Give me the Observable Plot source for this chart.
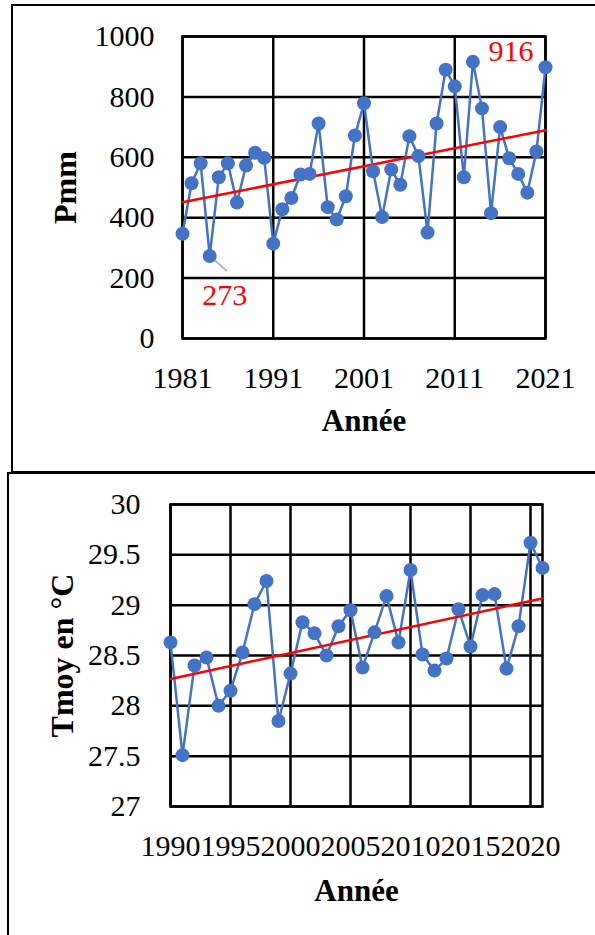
<!DOCTYPE html>
<html><head><meta charset="utf-8">
<script src="https://cdn.jsdelivr.net/npm/d3@7"></script>
<script src="https://cdn.jsdelivr.net/npm/@observablehq/plot@0.6"></script>
<style>
html,body{margin:0;padding:0;background:#fff;}
#wrap{position:relative;width:595px;height:935px;overflow:hidden;background:#fff;}
.panel{position:absolute;border:2.5px solid #000;box-sizing:border-box;}
#p1{left:11px;top:4px;width:640px;height:469px;}
#p2{left:7px;top:472px;width:640px;height:520px;}
.chart{position:absolute;left:0;}
#c1{top:0}
#c2{top:472px}
</style></head>
<body><div id="wrap"><div class="panel" id="p1"></div><div class="panel" id="p2"></div><div class="chart" id="c1"></div><div class="chart" id="c2"></div></div>
<script>
// Precipitation (Pmm), 1981-2021
const pYears = [1981,1982,1983,1984,1985,1986,1987,1988,1989,1990,1991,1992,1993,1994,1995,1996,1997,1998,1999,2000,2001,2002,2003,2004,2005,2006,2007,2008,2009,2010,2011,2012,2013,2014,2015,2016,2017,2018,2019,2020,2021];
const pValues = [347,514,580,273,534,580,450,573,615,598,314,428,465,543,545,712,435,394,471,672,779,554,402,560,509,670,604,351,712,890,835,534,916,762,415,700,597,545,483,619,898];
const pTicksX = [1981,1991,2001,2011,2021];
const pTicksY = [0,200,400,600,800,1000];
const pMinYear = [1984], pMinValue = [273];
const pMaxYear = [2013], pMaxValue = [916];

// Mean temperature (Tmoy en °C), 1990-2021
const tYears = [1990,1991,1992,1993,1994,1995,1996,1997,1998,1999,2000,2001,2002,2003,2004,2005,2006,2007,2008,2009,2010,2011,2012,2013,2014,2015,2016,2017,2018,2019,2020,2021];
const tValues = [28.63,27.51,28.40,28.48,28.00,28.15,28.53,29.01,29.24,27.85,28.32,28.83,28.72,28.50,28.79,28.95,28.38,28.73,29.09,28.63,29.35,28.51,28.35,28.47,28.96,28.59,29.10,29.11,28.37,28.79,29.62,29.37];
const tTicksX = [1990,1995,2000,2005,2010,2015,2020];
const tTicksY = [27,27.5,28,28.5,29,29.5,30];

const BLUE = "#4472C4", RED = "#FF0000";
const FONT = "'Liberation Serif','Times New Roman',serif";

const pData = pYears.map((y,i)=>({year:y, value:pValues[i]}));
const tData = tYears.map((y,i)=>({year:y, value:tValues[i]}));
const pMin = pMinYear.map((y,i)=>({year:y, value:pMinValue[i]}));
const pMax = pMaxYear.map((y,i)=>({year:y, value:pMaxValue[i]}));

const gridStyle = {stroke:"#000", strokeOpacity:1, strokeWidth:2.5};

const chart1 = Plot.plot({
  width:595, height:470,
  marginLeft:182, marginRight:50, marginTop:36, marginBottom:132,
  style:{fontFamily:FONT, fontSize:"30px", color:"#000", background:"transparent", overflow:"visible"},
  x:{domain:[1981,2021]},
  y:{domain:[0,1000]},
  marks:[
    Plot.gridX(pTicksX, gridStyle),
    Plot.gridY(pTicksY, gridStyle),
    Plot.frame({stroke:"#000", strokeWidth:2.5}),
    Plot.axisX(pTicksX, {tickSize:0, tickPadding:28, tickFormat:d=>String(d), label:null, fontSize:30}),
    Plot.axisY(pTicksY, {tickSize:0, tickPadding:28, tickFormat:d=>String(d), label:null, fontSize:30}),
    Plot.text(["Année"], {frameAnchor:"bottom", dy:92, lineAnchor:"bottom", textAnchor:"middle", fontWeight:"bold", fontSize:31, fill:"#000"}),
    Plot.text(["Pmm"], {frameAnchor:"left", dx:-107, rotate:-90, lineAnchor:"bottom", textAnchor:"middle", fontWeight:"bold", fontSize:32, fill:"#000"}),
    Plot.line(pData, {x:"year", y:"value", stroke:BLUE, strokeWidth:2.5}),
    Plot.linearRegressionY(pData, {x:"year", y:"value", stroke:RED, strokeWidth:2.5, ci:0}),
    Plot.vector(pMin, {x:"year", y:"value", length:22, rotate:131, anchor:"start", stroke:"#a9b8cc", strokeWidth:2,
      shape:{draw(context, l){ context.moveTo(0,0); context.lineTo(0,-l); }}}),
    Plot.dot(pData, {x:"year", y:"value", r:7, fill:BLUE}),
    Plot.text(pMin, {x:"year", y:"value", text:d=>String(d.value), dx:15, dy:49, lineAnchor:"bottom", fill:RED, fontSize:30}),
    Plot.text(pMax, {x:"year", y:"value", text:d=>String(d.value), dx:38, dy:-1, lineAnchor:"bottom", fill:RED, fontSize:30})
  ]
});
document.getElementById("c1").appendChild(chart1);

const chart2 = Plot.plot({
  width:595, height:463,
  marginLeft:170, marginRight:53, marginTop:32, marginBottom:129,
  style:{fontFamily:FONT, fontSize:"30px", color:"#000", background:"transparent", overflow:"visible"},
  x:{domain:[1990,2021]},
  y:{domain:[27,30]},
  marks:[
    Plot.gridX(tTicksX, gridStyle),
    Plot.gridY(tTicksY, gridStyle),
    Plot.frame({stroke:"#000", strokeWidth:2.5}),
    Plot.axisX(tTicksX, {tickSize:0, tickPadding:28, tickFormat:d=>String(d), label:null, fontSize:30}),
    Plot.axisY(tTicksY, {tickSize:0, tickPadding:30, tickFormat:d=>String(d), label:null, fontSize:30}),
    Plot.text(["Année"], {frameAnchor:"bottom", dy:94, lineAnchor:"bottom", textAnchor:"middle", fontWeight:"bold", fontSize:31, fill:"#000"}),
    Plot.text(["Tmoy en °C"], {frameAnchor:"left", dx:-98, rotate:-90, lineAnchor:"bottom", textAnchor:"middle", fontWeight:"bold", fontSize:32, fill:"#000"}),
    Plot.line(tData, {x:"year", y:"value", stroke:BLUE, strokeWidth:2.5}),
    Plot.linearRegressionY(tData, {x:"year", y:"value", stroke:RED, strokeWidth:2.5, ci:0}),
    Plot.dot(tData, {x:"year", y:"value", r:7, fill:BLUE})
  ]
});
document.getElementById("c2").appendChild(chart2);
</script>
</body></html>
